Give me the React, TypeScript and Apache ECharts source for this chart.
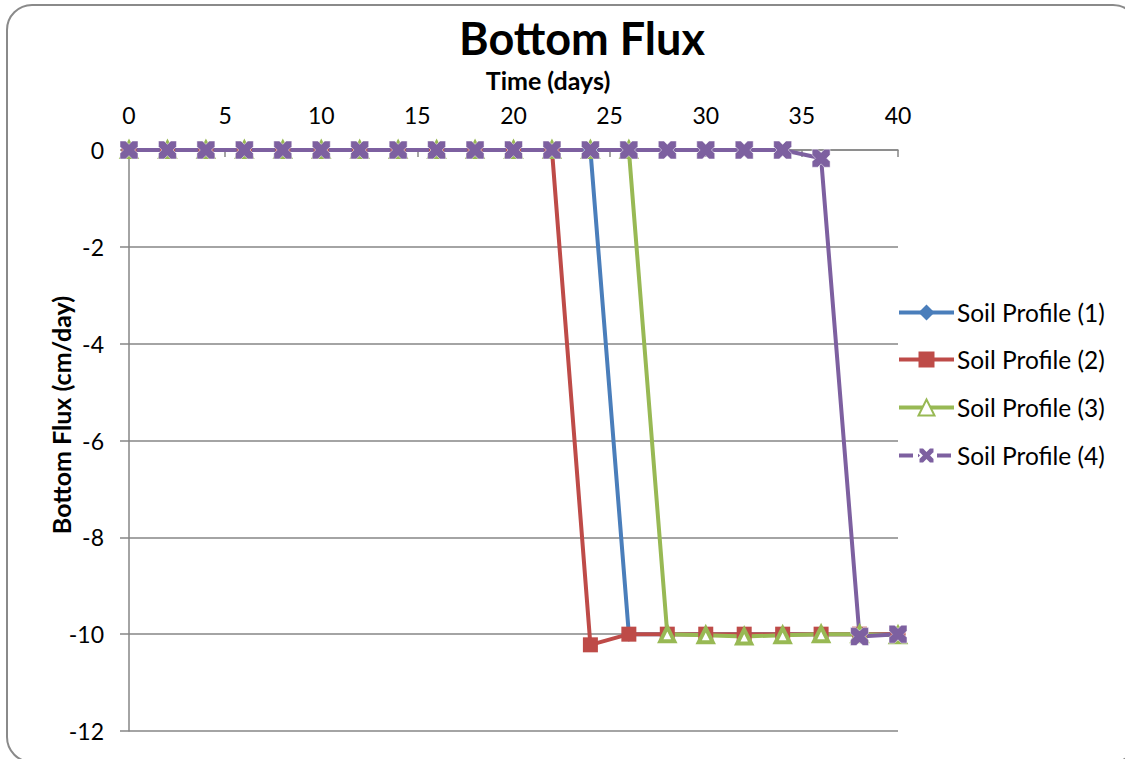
import React, { useEffect, useRef } from "react";
import * as echarts from "echarts";

const days = [0, 2, 4, 6, 8, 10, 12, 14, 16, 18, 20, 22, 24, 26, 28, 30, 32, 34, 36, 38, 40];
const seriesNames = ["Soil Profile (1)", "Soil Profile (2)", "Soil Profile (3)", "Soil Profile (4)"];
const profile1 = [0, 0, 0, 0, 0, 0, 0, 0, 0, 0, 0, 0, 0, -10, -10, -10, -10, -10, -10, -10, -10];
const profile2 = [0, 0, 0, 0, 0, 0, 0, 0, 0, 0, 0, 0, -10.22, -10, -10, -10, -10, -10, -10, -10, -10];
const profile3 = [0, 0, 0, 0, 0, 0, 0, 0, 0, 0, 0, 0, 0, 0, -10, -10.02, -10.05, -10.02, -10, -10, -10.02];
const profile4 = [0, 0, 0, 0, 0, 0, 0, 0, 0, 0, 0, 0, 0, 0, 0, 0, 0, 0, -0.17, -10.05, -10];

const FONT = "Lato";
const GRAY = "#868686";
const X_PATH = "path://M0,0 H5 L8,3 L11,0 H16 V5 L13,8 L16,11 V16 H11 L8,13 L5,16 H0 V11 L3,8 L0,5 Z";

const pair = (vals: number[]) => days.map((d, i) => [d, vals[i]]);

export default function App() {
  const ref = useRef<HTMLDivElement>(null);
  useEffect(() => {
    const chart = echarts.init(ref.current!, undefined, { renderer: "svg" });
    const legendTops = [300, 347, 395, 443];
    chart.setOption({
      animation: false,
      backgroundColor: "#fff",
      textStyle: { fontFamily: FONT },
      grid: { left: 129, top: 150, right: 227, bottom: 28, containLabel: false },
      graphic: [
        {
          type: "rect",
          shape: { x: 7, y: 5, width: 1131, height: 757, r: 25 },
          style: { fill: "none", stroke: "#8a8a8a", lineWidth: 2 },
          z: 100,
        },
        {
          type: "text",
          x: 582,
          y: 38,
          style: { text: "Bottom Flux", font: `bold 45px ${FONT}`, fill: "#000", align: "center", verticalAlign: "middle" },
        },
        {
          type: "text",
          x: 548,
          y: 80,
          style: { text: "Time (days)", font: `bold 25px ${FONT}`, fill: "#000", align: "center", verticalAlign: "middle" },
        },
        {
          type: "text",
          x: 61,
          y: 415,
          rotation: Math.PI / 2,
          style: { text: "Bottom Flux (cm/day)", font: `bold 25px ${FONT}`, fill: "#000", align: "center", verticalAlign: "middle" },
        },
      ],
      legend: seriesNames.map((n, i) => ({
        data: [
          i === 3
            ? { name: n, lineStyle: { type: [14, 5], width: 4 } }
            : { name: n },
        ],
        left: 897,
        top: legendTops[i],
        itemWidth: 55,
        itemHeight: 20,
        padding: 0,
        itemGap: 4,
        lineStyle: { width: 4 },
        textStyle: { fontSize: 24.5, color: "#000", fontFamily: FONT, padding: [0, 0, 0, -2] },
      })),
      xAxis: {
        type: "value",
        position: "top",
        min: 0,
        max: 40,
        interval: 5,
        axisLine: { show: true, lineStyle: { color: GRAY, width: 1.5 } },
        axisTick: { show: true, inside: true, length: 7, lineStyle: { color: GRAY, width: 1.5 } },
        axisLabel: { fontSize: 23, color: "#000", margin: 24, fontFamily: FONT },
        splitLine: { show: false },
      },
      yAxis: {
        type: "value",
        min: -12,
        max: 0,
        interval: 2,
        axisLine: { show: true, onZero: false, lineStyle: { color: GRAY, width: 1.5 } },
        axisTick: { show: true, length: 9, lineStyle: { color: GRAY, width: 1.5 } },
        axisLabel: { fontSize: 23, color: "#000", margin: 25, fontFamily: FONT },
        splitLine: { show: true, lineStyle: { color: GRAY, width: 1.5 } },
      },
      series: [
        {
          name: seriesNames[0],
          type: "line",
          data: pair(profile1),
          symbol: "diamond",
          symbolSize: 15,
          color: "#4A7EBB",
          lineStyle: { color: "#4A7EBB", width: 4 },
          itemStyle: { color: "#4A7EBB" },
        },
        {
          name: seriesNames[1],
          type: "line",
          data: pair(profile2),
          symbol: "rect",
          symbolSize: 15,
          color: "#BE4B48",
          lineStyle: { color: "#BE4B48", width: 4 },
          itemStyle: { color: "#BE4B48" },
        },
        {
          name: seriesNames[2],
          type: "line",
          data: pair(profile3),
          symbol: "triangle",
          symbolSize: 14,
          color: "#98B954",
          lineStyle: { color: "#98B954", width: 4 },
          itemStyle: { color: "#fff", borderColor: "#98B954", borderWidth: 4 },
        },
        {
          name: seriesNames[3],
          type: "line",
          data: pair(profile4),
          symbol: X_PATH,
          symbolSize: 18,
          color: "#7D60A0",
          lineStyle: { color: "#7D60A0", width: 4 },
          itemStyle: { color: "#7D60A0", borderColor: "#ffffff", borderWidth: 0.5 },
        },
      ],
    });
    return () => chart.dispose();
  }, []);
  return (
    <div
      ref={ref}
      style={{ position: "absolute", left: 0, top: 0, width: 1125, height: 759 }}
    />
  );
}
